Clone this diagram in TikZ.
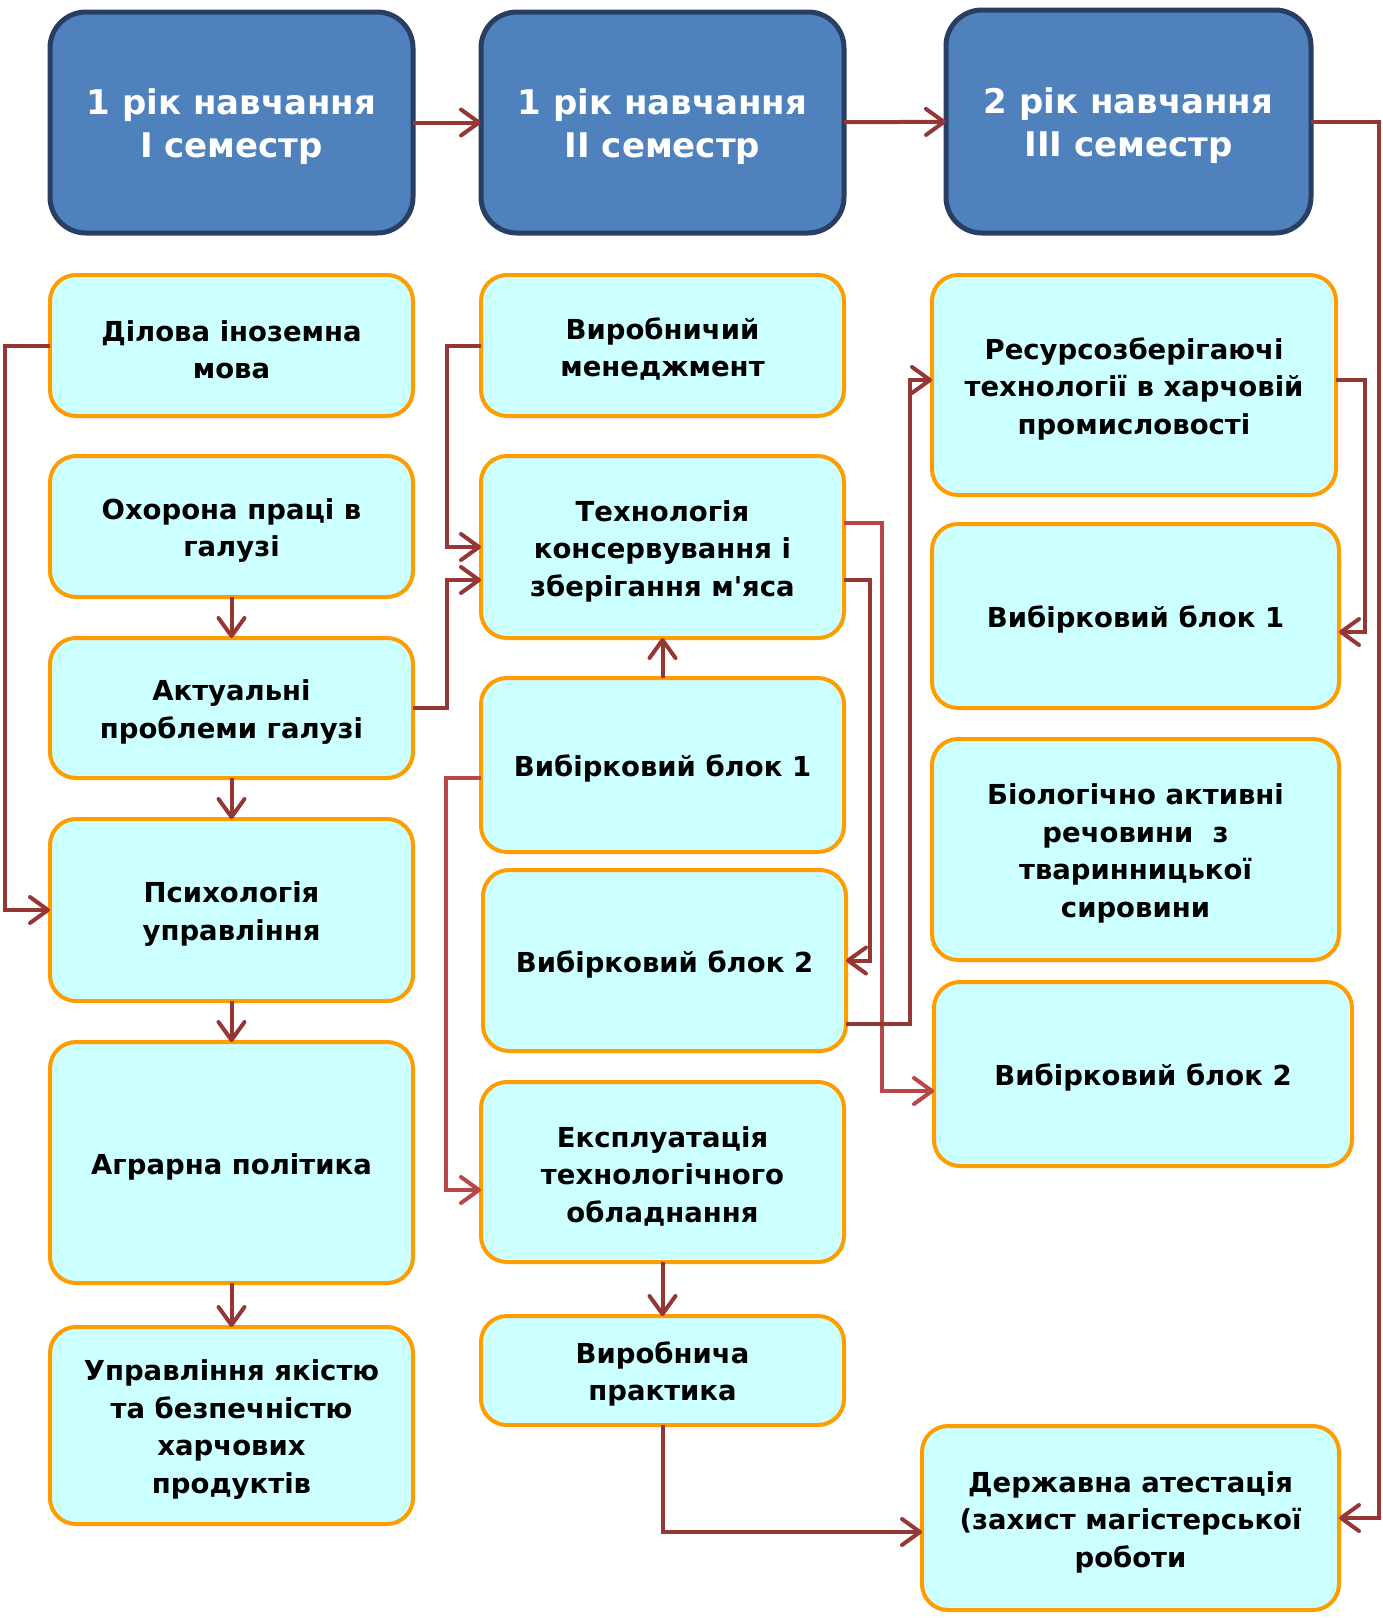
\documentclass[tikz,border=0pt]{standalone}
\usepackage{fontspec}
\setmainfont{DejaVu Sans}
\usetikzlibrary{arrows.meta}
\definecolor{hdrfill}{HTML}{4F81BD}
\definecolor{hdrline}{HTML}{283F63}
\definecolor{blkfill}{HTML}{CCFFFF}
\definecolor{blkline}{HTML}{FF9C00}
\definecolor{lnkcol}{HTML}{953735}
\definecolor{lnklight}{HTML}{B9474A}
% extra room above the first line, so the text sits a little lower
\newcommand\hup{\rule{0pt}{34pt}}
\newcommand\bup{\rule{0pt}{29pt}}

\begin{document}
\begin{tikzpicture}[x=1pt,y=-1pt,
  hdr/.style={draw=hdrline,fill=hdrfill,line width=5pt,rounded corners=36pt,
    minimum width=363pt,minimum height=221pt,outer sep=0pt,align=center,text=white,
    font=\fontsize{34}{43}\selectfont\bfseries},
  blk/.style={draw=blkline,fill=blkfill,line width=4pt,rounded corners=26pt,
    minimum width=363pt,outer sep=0pt,align=center,
    font=\fontsize{27.5}{37.5}\selectfont\bfseries},
  lnk/.style={draw=lnkcol,line width=4pt,-{Straight Barb[length=18pt,width=26pt,round]}},
  lnk2/.style={lnk,draw=lnklight}]
\path[fill=white] (0,0) rectangle (1383,1618);
% semesters
\node[hdr] (h1) at (231.5,122.5) {\hup 1 рік навчання\\I семестр};
\node[hdr] (h2) at (662.5,122.5) {\hup 1 рік навчання\\II семестр};
\node[hdr,minimum width=365pt,minimum height=223pt] (h3) at (1128.5,121.5) {\hup 2 рік навчання\\III семестр};
% first column
\node[blk,minimum height=141pt] (dil) at (231.5,345.5) {\bup Ділова іноземна\\мова};
\node[blk,minimum height=141pt] (okh) at (231.5,526.5) {\bup Охорона праці в\\галузі};
\node[blk,minimum height=140pt] (akt) at (231.5,708) {\bup Актуальні\\проблеми галузі};
\node[blk,minimum height=182pt] (psy) at (231.5,910) {\bup Психологія\\управління};
\node[blk,minimum height=241pt] (agr) at (231.5,1162.5) {\bup Аграрна політика};
\node[blk,minimum height=197pt] (yak) at (231.5,1425.5) {\bup Управління якістю\\та безпечністю\\харчових\\продуктів};
% second column
\node[blk,minimum height=141pt] (vmen) at (662.5,345.5) {\bup Виробничий\\менеджмент};
\node[blk,minimum height=182pt] (tech) at (662.5,547) {\bup Технологія\\консервування і\\зберігання м\textquotesingle яса};
\node[blk,minimum height=174pt] (vb1a) at (662.5,765) {\bup Вибірковий блок 1};
\node[blk,minimum height=181pt] (vb2a) at (664.5,960.5) {\bup Вибірковий блок 2};
\node[blk,minimum height=180pt] (ekspl) at (662.5,1172) {\bup Експлуатація\\технологічного\\обладнання};
\node[blk,minimum height=109pt] (prak) at (662.5,1370.5) {\bup Виробнича\\практика};
% third column
\node[blk,minimum width=404pt,minimum height=220pt] (res) at (1134,385) {\bup Ресурсозберігаючі\\технології в харчовій\\промисловості};
\node[blk,minimum width=407pt,minimum height=184pt] (vb1b) at (1135.5,616) {\bup Вибірковий блок 1};
\node[blk,minimum width=407pt,minimum height=221pt] (bio) at (1135.5,849.5) {\bup Біологічно активні\\речовини~~з\\тваринницької\\сировини};
\node[blk,minimum width=418pt,minimum height=184pt] (vb2b) at (1143,1074) {\bup Вибірковий блок 2};
\node[blk,minimum width=417pt,minimum height=184pt] (derzh) at (1130.5,1518) {\bup Державна атестація\\(захист магістерської\\роботи};
% links
\foreach \a/\b in {h1/h2,h2/h3,okh/akt,akt/psy,psy/agr,agr/yak,vb1a/tech,ekspl/prak}
  \draw[lnk] (\a) -- (\b);
\draw[lnk] (h3.east) -- ++(68,0) |- (derzh.east);
\draw[lnk] (dil.west) -- ++(-45,0) |- (psy.west);
\draw[lnk] (vmen.west) -- ++(-34,0) |- (tech.west);
\draw[lnk] (akt.east) -- ++(34,0) |- ([yshift=-33pt]tech.west);
\draw[lnk2] ([yshift=-13pt]vb1a.west) -- ++(-35,0) |- ([yshift=-18pt]ekspl.west);
\draw[lnk2] ([yshift=24pt]tech.east) -- ++(38,0) |- ([yshift=-17pt]vb2b.west);
\draw[lnk] ([yshift=-33pt]tech.east) -- ++(26,0) |- (vb2a.east);
\draw[lnk] ([yshift=-63.5pt]vb2a.east) -- ++(64,0) |- ([yshift=5pt]res.west);
\draw[lnk] ([yshift=5pt]res.east) -- ++(29,0) |- ([yshift=-16pt]vb1b.east);
\draw[lnk] (prak.south) |- ([yshift=-14pt]derzh.west);
\end{tikzpicture}
\end{document}
